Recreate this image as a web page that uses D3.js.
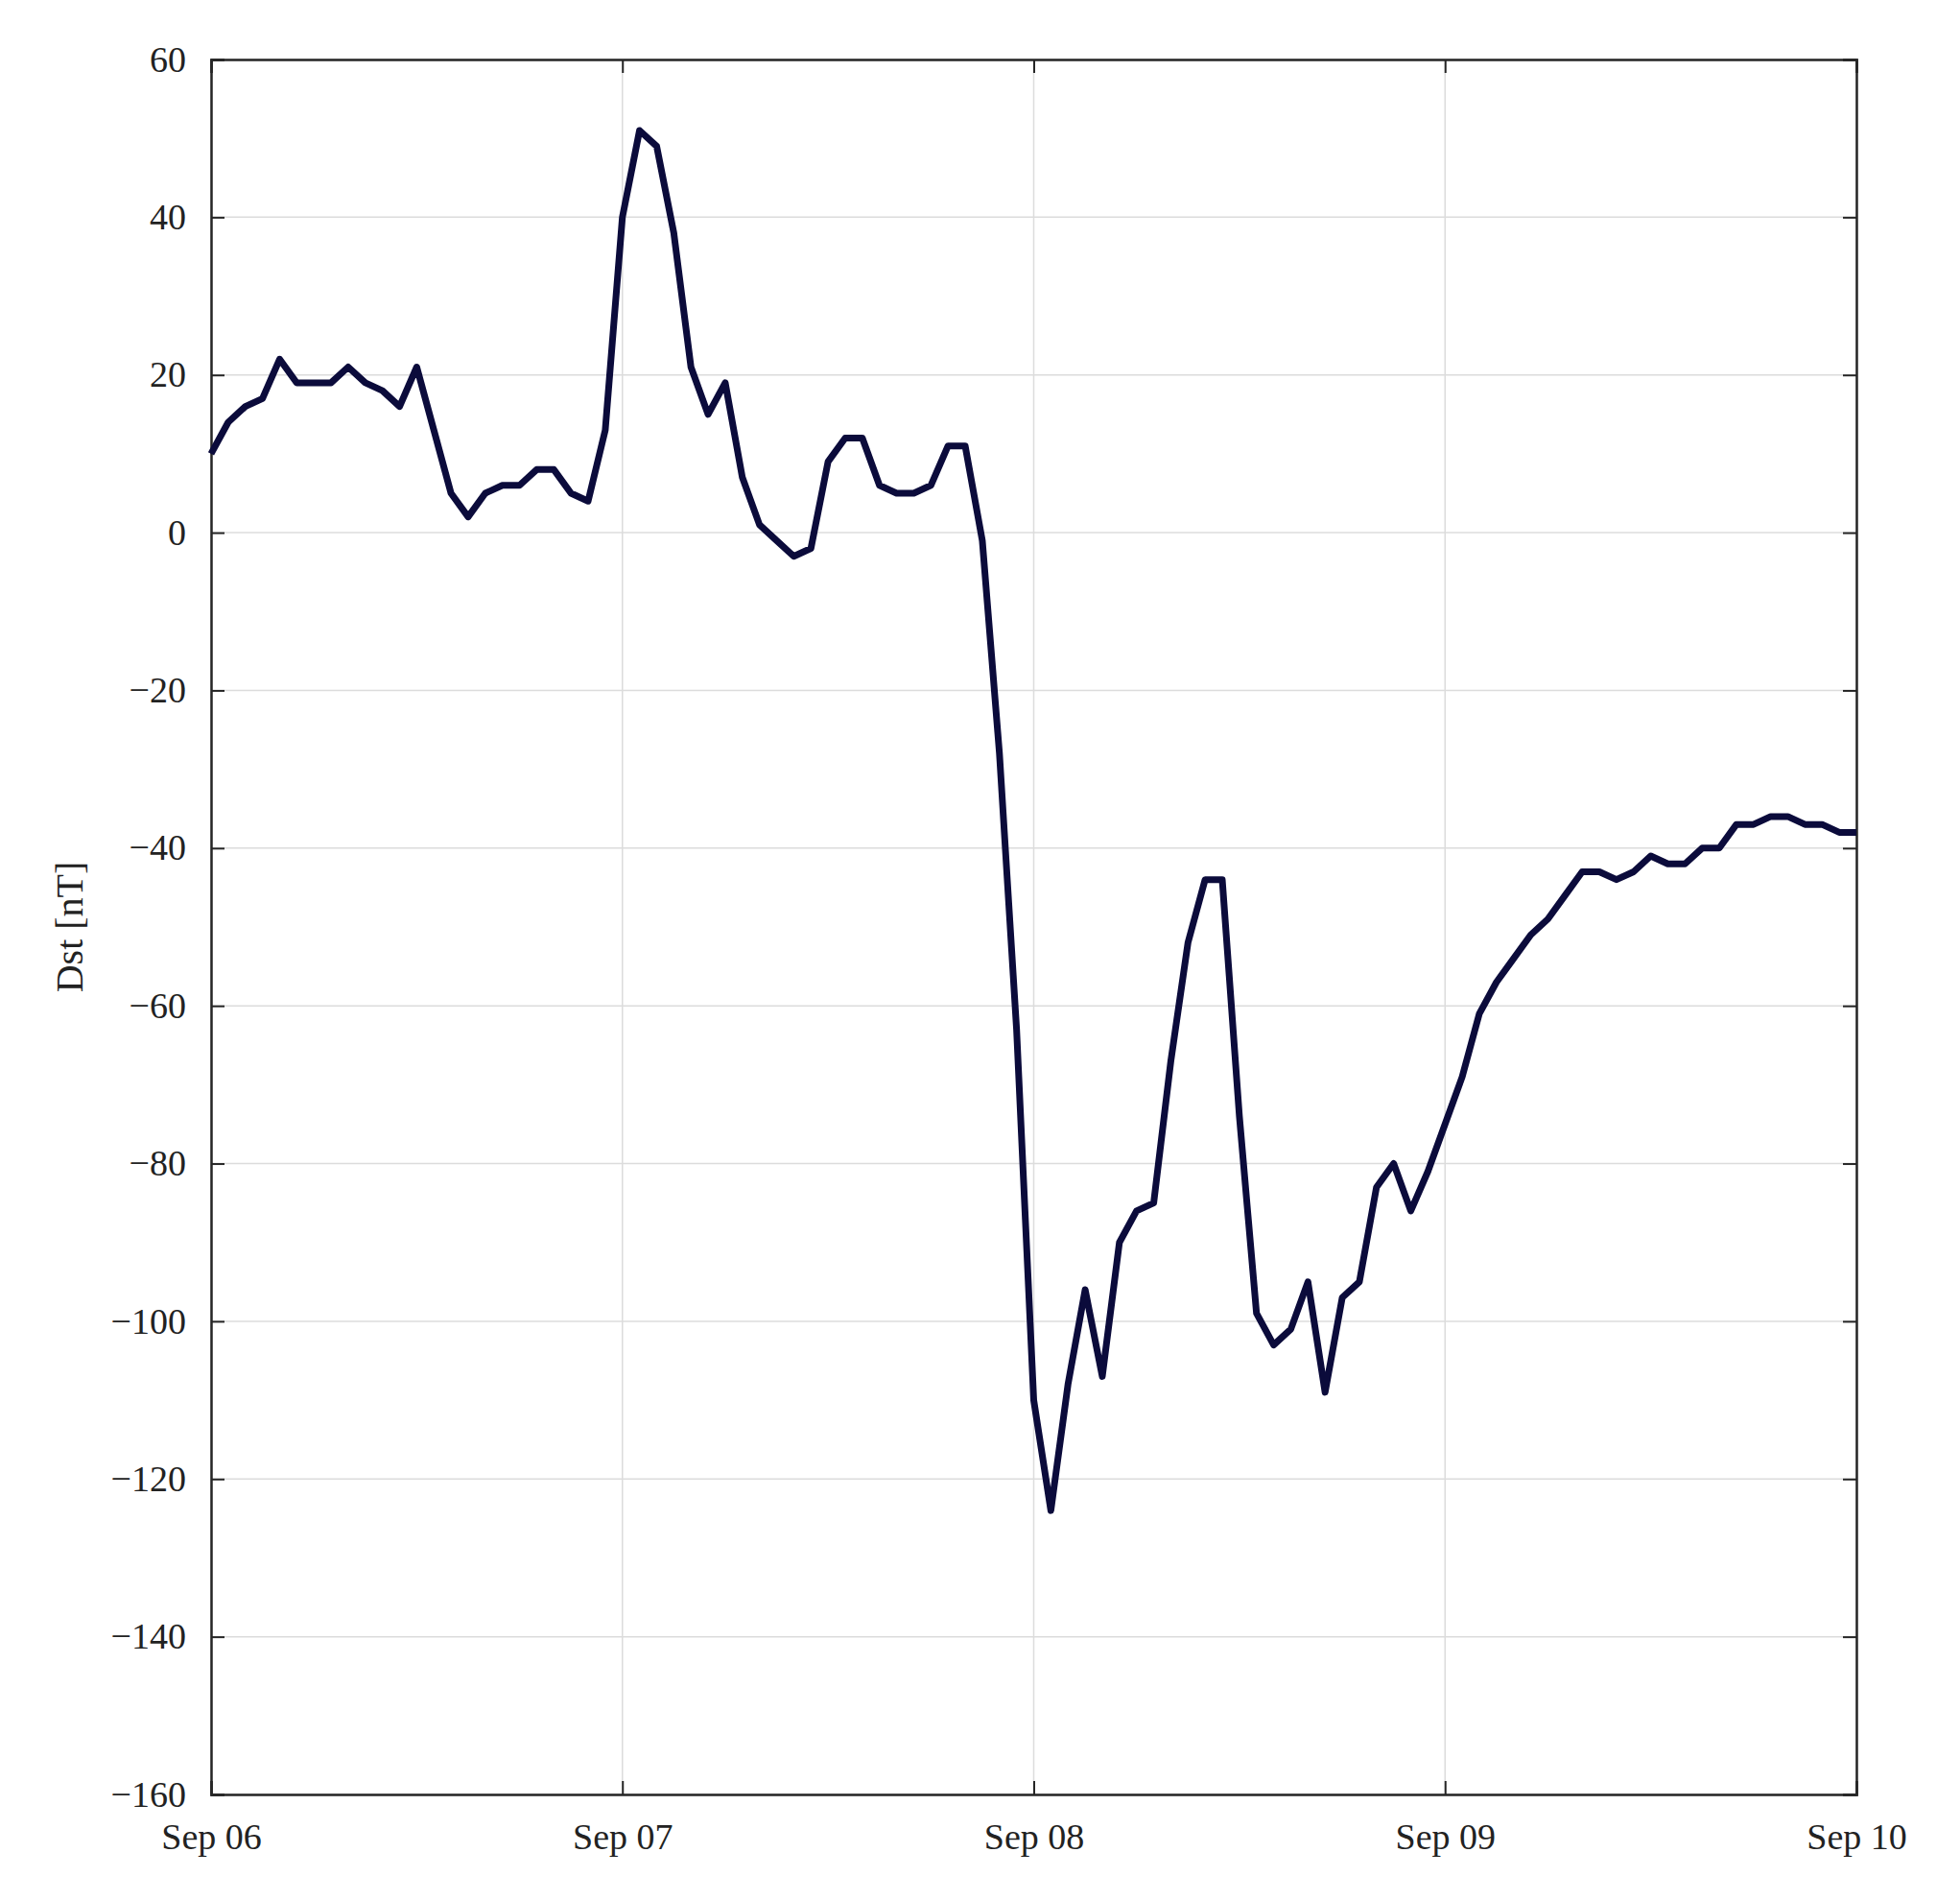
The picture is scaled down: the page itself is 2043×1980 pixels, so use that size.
<!DOCTYPE html>
<html>
<head>
<meta charset="utf-8">
<script src="https://cdn.jsdelivr.net/npm/d3@7"></script>
<style>
  body { margin: 0; background: #fff; }
  text { font-family: "Liberation Serif", "Times New Roman", serif; fill: #222; }
</style>
</head>
<body>
<svg id="paper"></svg>
<script>
// hourly Dst values, Sep 06 00:00 to Sep 10 00:00
const startTime = new Date(2017, 8, 6, 0);
const dstValues = [
  10, 14, 16, 17, 22, 19, 19, 19, 21, 19, 18, 16,
  21, 13, 5, 2, 5, 6, 6, 8, 8, 5, 4, 13,
  40, 51, 49, 38, 21, 15, 19, 7, 1, -1, -3, -2,
  9, 12, 12, 6, 5, 5, 6, 11, 11, -1, -28, -63,
  -110, -124, -108, -96, -107, -90, -86, -85, -67, -52, -44, -44,
  -74, -99, -103, -101, -95, -109, -97, -95, -83, -80, -86, -81,
  -75, -69, -61, -57, -54, -51, -49, -46, -43, -43, -44, -43,
  -41, -42, -42, -40, -40, -37, -37, -36, -36, -37, -37, -38,
  -38
];
const yTicks = [60, 40, 20, 0, -20, -40, -60, -80, -100, -120, -140, -160];
const xTickLabels = ["Sep 06", "Sep 07", "Sep 08", "Sep 09", "Sep 10"];

const data = dstValues.map((v, i) => ({t: d3.timeHour.offset(startTime, i), v: v}));
const xTicks = xTickLabels.map((_, i) => d3.timeDay.offset(startTime, i));

const W = 2043, H = 1980;
const margin = {top: 62, right: 108, bottom: 110, left: 220};
const width = W - margin.left - margin.right,
      height = H - margin.top - margin.bottom;

const svg = d3.select("#paper").attr("width", W).attr("height", H);
const g = svg.append("g").attr("transform", `translate(${margin.left},${margin.top})`);

const x = d3.scaleTime().domain([xTicks[0], xTicks[xTicks.length - 1]]).range([0, width]);
const y = d3.scaleLinear().domain([-160, 60]).range([height, 0]);

// grid
g.selectAll(".hgrid").data(yTicks).enter().append("line")
  .attr("x1", 0).attr("x2", width)
  .attr("y1", d => y(d)).attr("y2", d => y(d))
  .attr("stroke", "#dcdcdc").attr("stroke-width", 1.5);
g.selectAll(".vgrid").data(xTicks).enter().append("line")
  .attr("y1", 0).attr("y2", height)
  .attr("x1", d => x(d)).attr("x2", d => x(d))
  .attr("stroke", "#dcdcdc").attr("stroke-width", 1.5);

// axes with inward ticks
const fs = "38px";
const axLeft = g.append("g").call(d3.axisLeft(y).tickValues(yTicks).tickSize(-14).tickPadding(26));
const axRight = g.append("g").attr("transform", `translate(${width},0)`)
  .call(d3.axisRight(y).tickValues(yTicks).tickSize(-14).tickFormat(""));
const axBottom = g.append("g").attr("transform", `translate(0,${height})`)
  .call(d3.axisBottom(x).tickValues(xTicks).tickSize(-14).tickPadding(30)
    .tickFormat((d, i) => xTickLabels[i]));
const axTop = g.append("g").call(d3.axisTop(x).tickValues(xTicks).tickSize(-14).tickFormat(""));
[axLeft, axRight, axBottom, axTop].forEach(a => {
  a.select(".domain").attr("stroke", "#262626").attr("stroke-width", 2.5);
  a.selectAll(".tick line").attr("stroke", "#262626").attr("stroke-width", 2);
  a.selectAll("text").style("font-size", fs).style("font-family", "Liberation Serif").attr("fill", "#222");
});

// Dst line
g.append("path").datum(data)
  .attr("fill", "none")
  .attr("stroke", "#0b0b3b")
  .attr("stroke-width", 7)
  .attr("stroke-linejoin", "round")
  .attr("d", d3.line().x(d => x(d.t)).y(d => y(d.v)));

// y label
svg.append("text")
  .attr("transform", `translate(86,${margin.top + height / 2}) rotate(-90)`)
  .attr("text-anchor", "middle")
  .style("font-size", "40px")
  .text("Dst [nT]");
</script>
</body>
</html>
